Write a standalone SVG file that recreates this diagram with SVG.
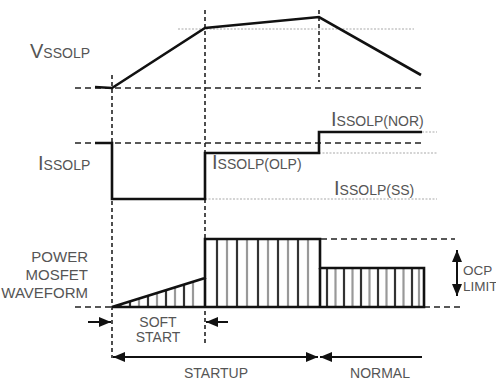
<svg xmlns="http://www.w3.org/2000/svg" width="496" height="382" viewBox="0 0 496 382">
<style>
.lbl{font-family:"Liberation Sans",Arial,sans-serif;fill:#555}
.big{font-size:20px}
.sm{font-size:14px}
.wave{fill:none;stroke:#111;stroke-width:2.6;stroke-linejoin:miter}
.dash{fill:none;stroke:#222;stroke-width:1.6;stroke-dasharray:6 4}
.vdash{fill:none;stroke:#222;stroke-width:1.6;stroke-dasharray:4 3}
.dot{fill:none;stroke:#aaa;stroke-width:1.2;stroke-dasharray:2 1.5}
.hd{stroke:#333;stroke-width:2.2}
.hl{stroke:#999;stroke-width:2.2}
.arr{fill:none;stroke:#111;stroke-width:2}
</style>
<defs>
<marker id="ah" viewBox="0 0 12 10" refX="12" refY="5" markerWidth="12" markerHeight="10" markerUnits="userSpaceOnUse" orient="auto-start-reverse">
<path d="M0,0 L12,5 L0,10 Z" fill="#111"/>
</marker>
</defs>
<rect width="496" height="382" fill="#fff"/>

<g id="guides">
<path class="vdash" d="M112,75 V358"/>
<path class="vdash" d="M205,10 V343"/>
<path class="vdash" d="M319,10 V82"/>
<path class="dash" d="M75,88 H423"/>
<path class="dash" d="M75,143 H423"/>
<path class="dash" d="M75,307 H112"/>
<path class="dash" d="M321,239 H455"/>
<path class="dash" d="M424,307 H460"/>
<path class="dot" d="M178,29 H414"/>
<path class="dot" d="M422,132 H437"/>
<path class="dot" d="M319,153 H437"/>
<path class="dot" d="M205,199 H437"/>
</g>

<g id="vssolp">
<path class="wave" d="M95,87 L112,88 L205,28 L319,17 L421,75"/>
<text class="lbl" x="30" y="58"><tspan class="big">V</tspan><tspan class="sm">SSOLP</tspan></text>
</g>

<g id="issolp">
<path class="wave" d="M95,143 H112 V199 H205 V153 H319 V132 H422"/>
<text class="lbl" x="38" y="170"><tspan class="big">I</tspan><tspan class="sm">SSOLP</tspan></text>
<text class="lbl" x="331" y="126"><tspan class="big">I</tspan><tspan class="sm">SSOLP(NOR)</tspan></text>
<text class="lbl" x="212" y="169"><tspan class="big">I</tspan><tspan class="sm">SSOLP(OLP)</tspan></text>
<text class="lbl" x="334" y="195"><tspan class="big">I</tspan><tspan class="sm">SSOLP(SS)</tspan></text>
</g>

<g id="mosfet">
<g id="hatch">
<line class="hl" x1="121" y1="307" x2="121" y2="304.2"/>
<line class="hd" x1="130" y1="307" x2="130" y2="301.4"/>
<line class="hl" x1="139" y1="307" x2="139" y2="298.6"/>
<line class="hd" x1="148" y1="307" x2="148" y2="295.8"/>
<line class="hl" x1="157" y1="307" x2="157" y2="293"/>
<line class="hd" x1="166" y1="307" x2="166" y2="290.2"/>
<line class="hl" x1="175" y1="307" x2="175" y2="287.4"/>
<line class="hd" x1="184" y1="307" x2="184" y2="284.6"/>
<line class="hl" x1="193" y1="307" x2="193" y2="281.8"/>
<line class="hd" x1="217" y1="239" x2="217" y2="307"/>
<line class="hl" x1="227" y1="239" x2="227" y2="307"/>
<line class="hd" x1="237" y1="239" x2="237" y2="307"/>
<line class="hl" x1="247" y1="239" x2="247" y2="307"/>
<line class="hd" x1="258" y1="239" x2="258" y2="307"/>
<line class="hl" x1="268" y1="239" x2="268" y2="307"/>
<line class="hd" x1="278" y1="239" x2="278" y2="307"/>
<line class="hl" x1="288" y1="239" x2="288" y2="307"/>
<line class="hd" x1="298" y1="239" x2="298" y2="307"/>
<line class="hl" x1="308" y1="239" x2="308" y2="307"/>
<line class="hd" x1="327" y1="268" x2="327" y2="307"/>
<line class="hl" x1="335.5" y1="268" x2="335.5" y2="307"/>
<line class="hd" x1="344" y1="268" x2="344" y2="307"/>
<line class="hl" x1="352.5" y1="268" x2="352.5" y2="307"/>
<line class="hd" x1="361" y1="268" x2="361" y2="307"/>
<line class="hl" x1="369.5" y1="268" x2="369.5" y2="307"/>
<line class="hd" x1="378" y1="268" x2="378" y2="307"/>
<line class="hl" x1="386.5" y1="268" x2="386.5" y2="307"/>
<line class="hd" x1="395" y1="268" x2="395" y2="307"/>
<line class="hl" x1="403.5" y1="268" x2="403.5" y2="307"/>
<line class="hd" x1="412" y1="268" x2="412" y2="307"/>
<line class="hl" x1="419" y1="268" x2="419" y2="307"/>
</g>
<path class="wave" d="M112,307 L205,278 V239 H320 V268 H424 V307 H112 Z"/>
<path class="wave" d="M205,278 V307 M320,268 V307"/>
<text class="lbl" style="font-size:15px" text-anchor="end"><tspan x="88" y="262">POWER</tspan><tspan x="88" y="280">MOSFET</tspan><tspan x="88" y="298">WAVEFORM</tspan></text>
</g>

<g id="ocp">
<line class="arr" x1="457" y1="250" x2="457" y2="296" marker-start="url(#ah)" marker-end="url(#ah)"/>
<text class="lbl" style="font-size:13.5px" x="463" y="275">OCP</text>
<text class="lbl" style="font-size:13.5px" x="463" y="291">LIMIT</text>
</g>

<g id="connectors">
<line class="arr" x1="88" y1="322" x2="111" y2="322" marker-end="url(#ah)"/>
<line class="arr" x1="228" y1="322" x2="206" y2="322" marker-end="url(#ah)"/>
<line class="arr" x1="113" y1="357" x2="318" y2="357" marker-start="url(#ah)" marker-end="url(#ah)"/>
<line class="arr" x1="422" y1="357" x2="320" y2="357" marker-end="url(#ah)"/>
</g>

<g id="labels">
<text class="lbl sm" text-anchor="middle"><tspan x="158" y="327">SOFT</tspan><tspan x="158" y="342">START</tspan></text>
<text class="lbl sm" x="216" y="378" text-anchor="middle">STARTUP</text>
<text class="lbl sm" x="380" y="378" text-anchor="middle">NORMAL</text>
</g>
</svg>
